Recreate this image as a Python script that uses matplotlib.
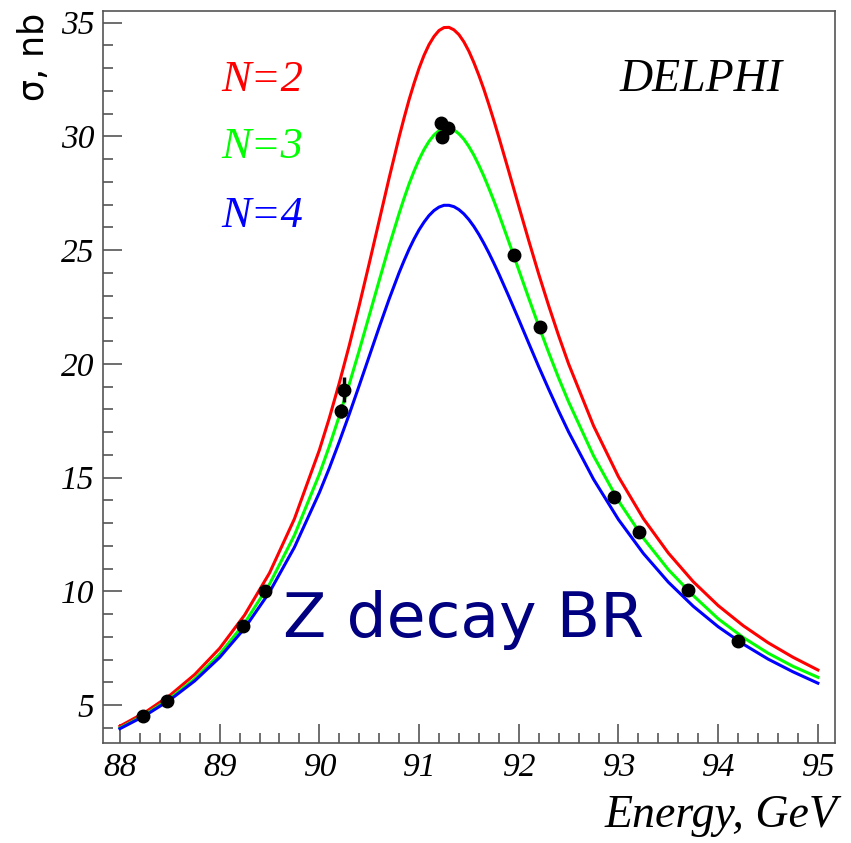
import numpy as np
import matplotlib.pyplot as plt
from matplotlib.ticker import MultipleLocator

# energy grid of the fitted curves (GeV)
energy = [88.0, 88.25, 88.5, 88.75, 89.0, 89.25, 89.5, 89.75,
          90.0, 90.1, 90.2, 90.3, 90.4, 90.5, 90.6, 90.7, 90.8,
          90.85, 90.9, 90.95, 91.0, 91.05, 91.1, 91.15, 91.2, 91.25, 91.3,
          91.35, 91.4, 91.45, 91.5, 91.55, 91.6, 91.65, 91.7, 91.75,
          91.8, 91.9, 92.0, 92.1, 92.2, 92.3, 92.4, 92.5,
          92.75, 93.0, 93.25, 93.5, 93.75, 94.0, 94.25, 94.5, 94.75, 95.0]

sigma_n2 = [4.08, 4.68, 5.43, 6.35, 7.50, 8.96, 10.81, 13.19,
            16.21, 17.62, 19.16, 20.81, 22.57, 24.41, 26.29, 28.17, 29.97,
            30.81, 31.61, 32.33, 32.99, 33.56, 34.03, 34.39, 34.65, 34.78, 34.79,
            34.68, 34.47, 34.15, 33.74, 33.24, 32.68, 32.07, 31.40, 30.70,
            29.97, 28.46, 26.93, 25.42, 23.95, 22.56, 21.24, 20.00,
            17.28, 15.04, 13.20, 11.69, 10.43, 9.38, 8.50, 7.75, 7.11, 6.55]

sigma_n3 = [4.00, 4.58, 5.29, 6.16, 7.25, 8.61, 10.32, 12.47,
            15.15, 16.38, 17.71, 19.11, 20.59, 22.12, 23.66, 25.18, 26.61,
            27.28, 27.91, 28.47, 28.98, 29.42, 29.78, 30.06, 30.25, 30.35, 30.36,
            30.28, 30.11, 29.87, 29.55, 29.17, 28.73, 28.25, 27.72, 27.17,
            26.59, 25.37, 24.13, 22.89, 21.67, 20.50, 19.38, 18.33,
            15.96, 13.98, 12.34, 10.96, 9.82, 8.80, 7.98, 7.29, 6.71, 6.23]

sigma_n4 = [3.97, 4.54, 5.23, 6.07, 7.10, 8.38, 9.97, 11.94,
            14.34, 15.42, 16.58, 17.79, 19.05, 20.33, 21.61, 22.85, 24.01,
            24.54, 25.04, 25.49, 25.89, 26.23, 26.52, 26.74, 26.89, 26.97, 26.97,
            26.91, 26.78, 26.59, 26.34, 26.04, 25.69, 25.30, 24.88, 24.43,
            23.96, 22.97, 21.95, 20.91, 19.88, 18.89, 17.93, 17.01,
            14.93, 13.16, 11.67, 10.41, 9.35, 8.45, 7.69, 7.03, 6.47, 5.97]

# DELPHI measurements
data_e = [88.23, 88.47, 89.23, 89.46, 90.22, 90.25, 91.22, 91.29, 91.23,
          91.955, 92.21, 92.955, 93.205, 93.70, 94.20]
data_s = [4.53, 5.19, 8.50, 10.0, 17.92, 18.87, 30.57, 30.38, 29.98,
          24.78, 21.6, 14.14, 12.6, 10.07, 7.82]
data_err = [0.1, 0.1, 0.15, 0.15, 0.3, 0.55, 0.15, 0.15, 0.15,
            0.15, 0.2, 0.15, 0.15, 0.15, 0.15]

serif = 'Liberation Serif'

fig = plt.figure(figsize=(8.51, 8.43), dpi=100)
ax = fig.add_axes([0.121, 0.1186, 0.860, 0.8684])

ax.plot(energy, sigma_n2, color='#ff0000', lw=2.2)
ax.plot(energy, sigma_n3, color='#00ff00', lw=2.2)
ax.plot(energy, sigma_n4, color='#0000ff', lw=2.2)
ax.errorbar(data_e, data_s, yerr=data_err, fmt='o', color='black',
            ms=9, elinewidth=2.5, capsize=0, zorder=5)

ax.set_xlim(87.83, 95.17)
ax.set_ylim(3.34, 35.51)

ax.xaxis.set_major_locator(MultipleLocator(1))
ax.xaxis.set_minor_locator(MultipleLocator(0.2))
ax.yaxis.set_major_locator(MultipleLocator(5))
ax.yaxis.set_minor_locator(MultipleLocator(1))
ax.tick_params(which='both', direction='in', color='#555555', width=1.2)
ax.tick_params(which='major', length=14)
ax.tick_params(which='minor', length=7.5)
ax.tick_params(axis='y', which='major', pad=6)
ax.tick_params(axis='x', which='major', pad=7)
for lab in ax.get_xticklabels() + ax.get_yticklabels():
    lab.set_fontfamily(serif)
    lab.set_fontstyle('italic')
    lab.set_fontsize(24)
for sp in ax.spines.values():
    sp.set_color('#555555')
    sp.set_linewidth(1.2)

ax.text(89.02, 32.01, 'N=2', color='#ff0000', fontsize=32, family=serif, style='italic')
ax.text(89.02, 29.03, 'N=3', color='#00ff00', fontsize=32, family=serif, style='italic')
ax.text(89.02, 26.03, 'N=4', color='#0000ff', fontsize=32, family=serif, style='italic')
ax.text(93.015, 32.01, 'DELPHI', color='black', fontsize=33, family=serif, style='italic')
ax.text(89.64, 7.99, 'Z decay BR', color='#000080', fontsize=45.5, family='DejaVu Sans')

fig.text(0.9835, 0.0193, 'Energy, GeV', ha='right', va='baseline',
         fontsize=33, family=serif, style='italic')
fig.text(0.0394, 0.9846, 'σ, nb', ha='center', va='top', rotation=90,
         fontsize=25, family='DejaVu Sans')

fig.savefig('out.png', dpi=100)
